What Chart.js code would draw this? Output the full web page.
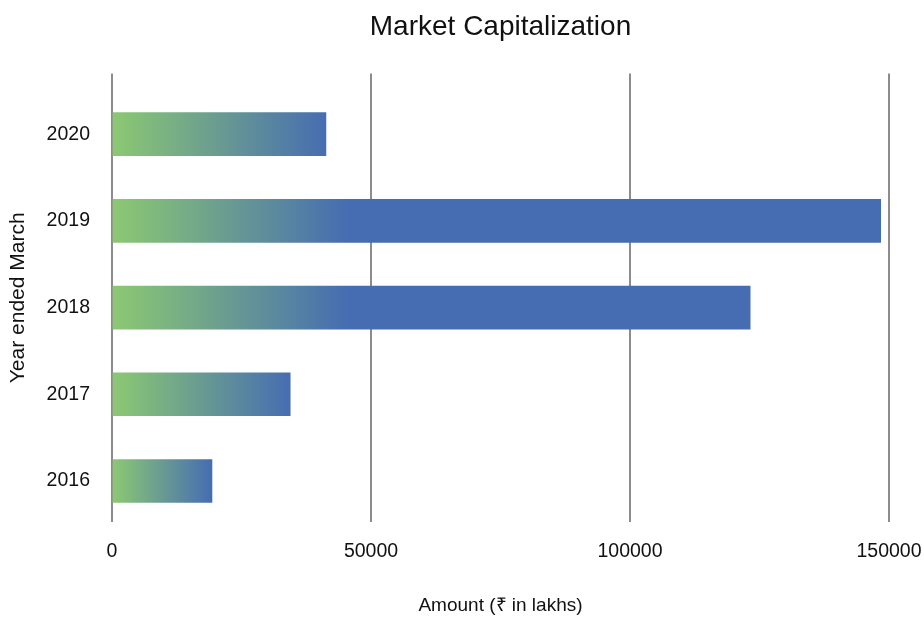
<!DOCTYPE html>
<html>
<head>
<meta charset="utf-8">
<script src="https://cdn.jsdelivr.net/npm/chart.js@4.4.1/dist/chart.umd.min.js"></script>
<style>
  html, body { margin: 0; padding: 0; background: #fff; }
  #wrap { width: 924px; height: 617px; position: relative; }
</style>
</head>
<body>
<div id="wrap"><canvas id="c" width="924" height="617"></canvas></div>
<script>
// Data
const years = [2016, 2017, 2018, 2019, 2020];
const marketCap = [19300, 34400, 123200, 148400, 41300];
const xTicks = [0, 50000, 100000, 150000];
const chartTitle = 'Market Capitalization';
const xTitle = 'Amount (₹ in lakhs)';
const yTitle = 'Year ended March';

const GREEN = '#8cc972';
const BLUE = '#466db1';
const FONT = "'Liberation Sans', Arial, Helvetica, sans-serif";

function barFill(ctx) {
  const chart = ctx.chart;
  if (!chart.chartArea || ctx.type !== 'data') return BLUE;
  const xs = chart.scales.x;
  const x0 = xs.getPixelForValue(0);
  const x1 = xs.getPixelForValue(marketCap[ctx.dataIndex]);
  const len = Math.max(1, Math.min(x1 - x0, 235));
  const g = chart.ctx.createLinearGradient(x0, 0, x0 + len, 0);
  g.addColorStop(0, GREEN);
  g.addColorStop(1, BLUE);
  return g;
}

new Chart(document.getElementById('c'), {
  type: 'bar',
  data: {
    datasets: [{
      data: years.map((y, i) => ({ x: marketCap[i], y: y })),
      backgroundColor: barFill,
      borderWidth: 0,
      barThickness: 43
    }]
  },
  options: {
    indexAxis: 'y',
    responsive: false,
    animation: false,
    layout: { padding: { left: 0, right: 35, top: 0, bottom: 0 } },
    plugins: {
      legend: { display: false },
      tooltip: { enabled: false },
      title: {
        display: true,
        text: chartTitle,
        fullSize: false,
        color: '#111',
        font: { family: FONT, size: 28, weight: 'normal', lineHeight: 1.2 },
        padding: { top: 10, bottom: 30 }
      }
    },
    scales: {
      x: {
        type: 'linear',
        min: 0,
        max: 150000,
        afterBuildTicks: (s) => { s.ticks = xTicks.map(v => ({ value: v })); },
        afterFit: (s) => { s.height = 95; s.paddingLeft = 0; s.paddingRight = 0; },
        grid: { display: true, color: '#8c8c8c', lineWidth: 2, drawTicks: false },
        border: { display: false },
        ticks: {
          color: '#111',
          padding: 18,
          maxRotation: 0,
          font: { family: FONT, size: 19.5 },
          callback: (v) => String(v)
        },
        title: {
          display: true,
          text: xTitle,
          color: '#111',
          font: { family: FONT, size: 19 },
          padding: { top: 0, bottom: 0 }
        }
      },
      y: {
        type: 'linear',
        offset: false,
        min: 2015.527,
        max: 2020.699,
        afterBuildTicks: (s) => { s.ticks = years.map(v => ({ value: v })); },
        afterFit: (s) => { s.width = 112; },
        grid: { display: false, drawTicks: false, tickLength: 0 },
        border: { display: false },
        ticks: {
          color: '#111',
          padding: 22,
          autoSkip: false,
          font: { family: FONT, size: 19.5 },
          callback: (v) => String(v)
        },
        title: {
          display: true,
          text: yTitle,
          color: '#111',
          font: { family: FONT, size: 21 },
          padding: { top: 6, bottom: 0 }
        }
      }
    }
  }
});
</script>
</body>
</html>
